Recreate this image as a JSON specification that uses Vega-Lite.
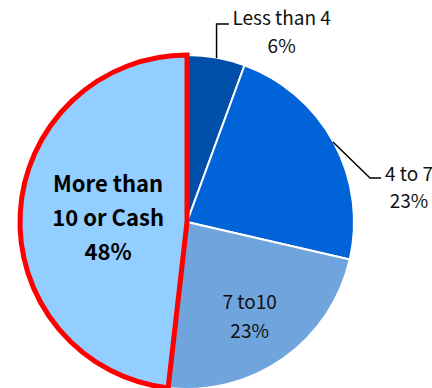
{
  "$schema": "https://vega.github.io/schema/vega-lite/v6.json",
  "width": 374,
  "height": 444,
  "autosize": {"type": "none"},
  "padding": {"left": 0, "top": 0, "right": 58, "bottom": 0},
  "background": "white",
  "config": {"view": {"stroke": null}, "text": {"font": "Noto Sans CJK JP"}},
  "datasets": {
    "slices": [
      {"category": "Less than 4", "share": 5.6, "rank": 1, "lines": ["Less than 4", "6%"]},
      {"category": "4 to 7", "share": 23, "rank": 2, "lines": ["4 to 7", "23%"]},
      {"category": "7 to10", "share": 23.2, "rank": 3, "lines": ["7 to10", "23%"]},
      {"category": "More than 10 or Cash", "share": 48.2, "rank": 4, "lines": ["More than", "10 or Cash", "48%"]}
    ],
    "leaders": [
      {"label": "Less than 4", "seq": 1, "px": 0.177, "py": 0.982},
      {"label": "Less than 4", "seq": 2, "px": 0.177, "py": 1.186},
      {"label": "Less than 4", "seq": 3, "px": 0.251, "py": 1.186},
      {"label": "4 to 7", "seq": 1, "px": 0.874, "py": 0.479},
      {"label": "4 to 7", "seq": 2, "px": 1.096, "py": 0.263},
      {"label": "4 to 7", "seq": 3, "px": 1.162, "py": 0.263}
    ]
  },
  "layer": [
    {
      "data": {"name": "slices"},
      "mark": {"type": "arc", "outerRadius": 167, "strokeJoin": "miter"},
      "encoding": {
        "theta": {"field": "share", "type": "quantitative", "stack": true},
        "order": {"field": "rank", "type": "quantitative"},
        "color": {
          "field": "category",
          "type": "nominal",
          "legend": null,
          "scale": {
            "domain": ["Less than 4", "4 to 7", "7 to10", "More than 10 or Cash"],
            "range": ["#0050AA", "#0064D8", "#70A4DC", "#92CEFF"]
          }
        },
        "stroke": {
          "condition": {"test": "datum.category === 'More than 10 or Cash'", "value": "#FF0000"},
          "value": "white"
        },
        "strokeWidth": {
          "condition": {"test": "datum.category === 'More than 10 or Cash'", "value": 5},
          "value": 2
        }
      }
    },
    {
      "data": {"name": "slices"},
      "mark": {"type": "text", "radius": 215, "dx": 57, "dy": 0, "baseline": "top", "align": "center", "fontSize": 19, "lineHeight": 28, "color": "#111"},
      "encoding": {
        "theta": {"field": "share", "type": "quantitative", "stack": true},
        "order": {"field": "rank", "type": "quantitative"},
        "text": {"condition": {"test": "datum.category === 'Less than 4'", "field": "lines"}, "value": ""}
      }
    },
    {
      "data": {"name": "slices"},
      "mark": {"type": "text", "radius": 215, "dx": 33, "dy": 46, "baseline": "top", "align": "center", "fontSize": 19, "lineHeight": 27, "color": "#111"},
      "encoding": {
        "theta": {"field": "share", "type": "quantitative", "stack": true},
        "order": {"field": "rank", "type": "quantitative"},
        "text": {"condition": {"test": "datum.category === '4 to 7'", "field": "lines"}, "value": ""}
      }
    },
    {
      "data": {"name": "slices"},
      "mark": {"type": "text", "radius": 105, "dx": 2, "dy": -14, "baseline": "top", "align": "center", "fontSize": 19, "lineHeight": 29, "color": "#111"},
      "encoding": {
        "theta": {"field": "share", "type": "quantitative", "stack": true},
        "order": {"field": "rank", "type": "quantitative"},
        "text": {"condition": {"test": "datum.category === '7 to10'", "field": "lines"}, "value": ""}
      }
    },
    {
      "data": {"name": "slices"},
      "mark": {"type": "text", "radius": 78, "dx": -1, "dy": -43, "baseline": "top", "align": "center", "fontSize": 22, "fontWeight": "bold", "lineHeight": 34, "color": "#000"},
      "encoding": {
        "theta": {"field": "share", "type": "quantitative", "stack": true},
        "order": {"field": "rank", "type": "quantitative"},
        "text": {"condition": {"test": "datum.category === 'More than 10 or Cash'", "field": "lines"}, "value": ""}
      }
    },
    {
      "data": {"name": "leaders"},
      "mark": {"type": "line", "color": "#000", "strokeWidth": 1.5, "strokeJoin": "miter"},
      "encoding": {
        "x": {"field": "px", "type": "quantitative", "axis": null, "scale": {"domain": [-1.1198, 1.1198], "nice": false, "zero": false}},
        "y": {"field": "py", "type": "quantitative", "axis": null, "scale": {"domain": [-1.3293, 1.3293], "nice": false, "zero": false}},
        "detail": {"field": "label", "type": "nominal"},
        "order": {"field": "seq", "type": "quantitative"}
      }
    }
  ]
}
